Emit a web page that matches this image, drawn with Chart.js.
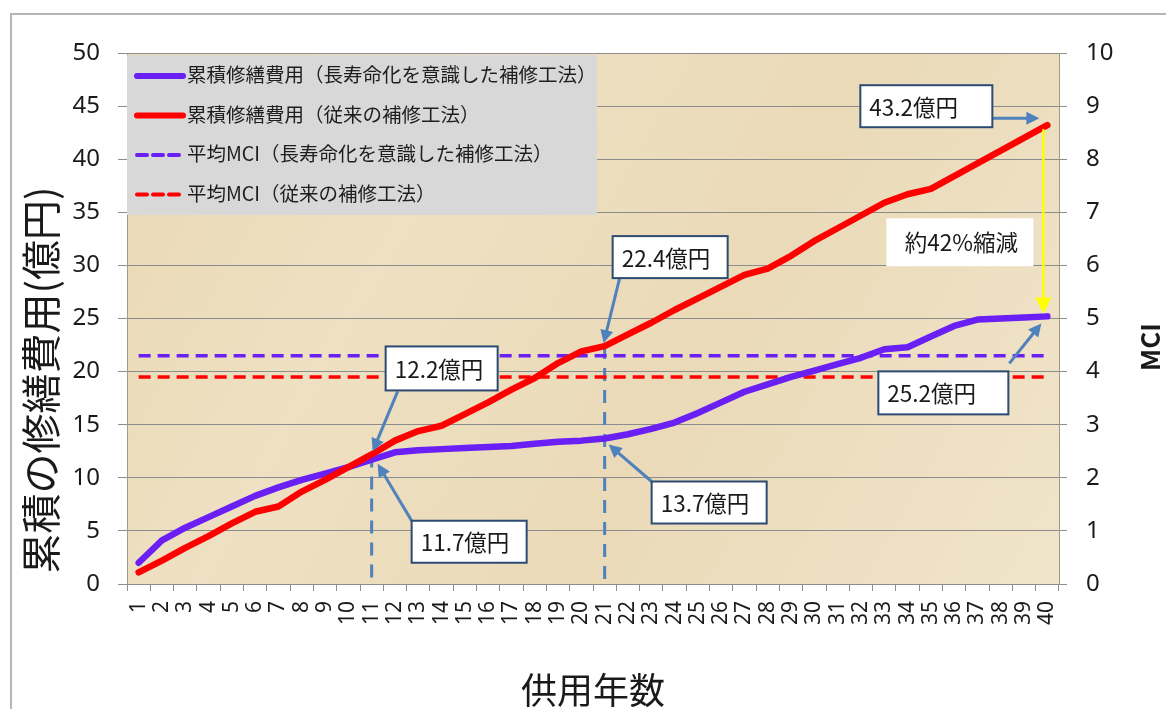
<!DOCTYPE html>
<html>
<head>
<meta charset="utf-8">
<title>累積修繕費用とMCI</title>
<script src="https://cdn.jsdelivr.net/npm/chart.js@4.4.0/dist/chart.umd.min.js"></script>
<style>
  html, body { margin: 0; padding: 0; background: #fff; }
  #wrap { width: 1166px; height: 709px; }
</style>
</head>
<body>
<div id="wrap"><canvas id="myChart" width="1166" height="709"></canvas></div>
<script>
// 供用年数
const years = ["1","2","3","4","5","6","7","8","9","10",
  "11","12","13","14","15","16","17","18","19","20",
  "21","22","23","24","25","26","27","28","29","30",
  "31","32","33","34","35","36","37","38","39","40"];

// 累積修繕費用（億円）
const costLongLife = [2.0, 4.1, 5.3, 6.3, 7.3, 8.3, 9.1, 9.8, 10.4, 11.0,
  11.7, 12.4, 12.6, 12.7, 12.8, 12.9, 13.0, 13.2, 13.4, 13.5,
  13.7, 14.1, 14.6, 15.2, 16.1, 17.1, 18.1, 18.8, 19.5, 20.1,
  20.7, 21.3, 22.1, 22.3, 23.3, 24.3, 24.9, 25.0, 25.1, 25.2];
const costConventional = [1.1, 2.2, 3.4, 4.5, 5.7, 6.8, 7.3, 8.7, 9.8, 11.0,
  12.2, 13.5, 14.4, 14.9, 16.0, 17.1, 18.3, 19.4, 20.8, 21.9,
  22.4, 23.5, 24.6, 25.8, 26.9, 28.0, 29.1, 29.7, 30.9, 32.3,
  33.5, 34.7, 35.9, 36.7, 37.2, 38.4, 39.6, 40.8, 42.0, 43.2];

// 平均MCI（右軸）: 1年目から40年目まで一定
const mciYears = ["1", "40"];
const mciLongLife = [4.3, 4.3];
const mciConventional = [3.9, 3.9];

// 軸目盛
const leftTicks = [0, 5, 10, 15, 20, 25, 30, 35, 40, 45, 50];
const rightTicks = [0, 1, 2, 3, 4, 5, 6, 7, 8, 9, 10];

const seriesNames = [
  "累積修繕費用（長寿命化を意識した補修工法）",
  "累積修繕費用（従来の補修工法）",
  "平均MCI（長寿命化を意識した補修工法）",
  "平均MCI（従来の補修工法）"
];

const PURPLE = "#6a1ff5";
const RED = "#ff0000";
const STEEL = "#4f81bd";
const NAVY = "#2c4a72";
const JP = '"Noto Sans CJK JP", "Noto Sans", sans-serif';

// 吹き出し（対象の年とシリーズから位置を決める）
const callouts = [
  { text: "43.2億円", year: 40, series: costConventional, box: [-187, -40, 132, 42], from: [-55, -7], to: [-8, -7] },
  { text: "22.4億円", year: 21, series: costConventional, box: [8, -110, 115, 42], from: [15, -68], to: [-1, -3] },
  { text: "12.2億円", year: 11, series: costConventional, box: [14, -108, 112, 44], from: [26, -63], to: [1, -3] },
  { text: "11.7億円", year: 11, series: costLongLife, box: [40, 61, 115, 42], from: [40, 61], to: [6, 4] },
  { text: "13.7億円", year: 21, series: costLongLife, box: [47, 43, 115, 42], from: [47, 43], to: [4, 6] },
  { text: "25.2億円", year: 40, series: costLongLife, box: [-169, 55, 130, 43], from: [-38, 47], to: [-6, 7] }
];
const markYears = [11, 21];

function arrow(ctx, x1, y1, x2, y2, color, width, head) {
  const ang = Math.atan2(y2 - y1, x2 - x1);
  ctx.strokeStyle = color;
  ctx.fillStyle = color;
  ctx.lineWidth = width;
  ctx.setLineDash([]);
  ctx.beginPath();
  ctx.moveTo(x1, y1);
  ctx.lineTo(x2 - Math.cos(ang) * head * 0.8, y2 - Math.sin(ang) * head * 0.8);
  ctx.stroke();
  ctx.beginPath();
  ctx.moveTo(x2, y2);
  ctx.lineTo(x2 - head * Math.cos(ang) + head * 0.5 * Math.sin(ang), y2 - head * Math.sin(ang) - head * 0.5 * Math.cos(ang));
  ctx.lineTo(x2 - head * Math.cos(ang) - head * 0.5 * Math.sin(ang), y2 - head * Math.sin(ang) + head * 0.5 * Math.cos(ang));
  ctx.closePath();
  ctx.fill();
}

const backgroundPlugin = {
  id: "paperBackground",
  beforeDraw(chart) {
    const { ctx, chartArea: a, width, height } = chart;
    ctx.save();
    ctx.fillStyle = "#ffffff";
    ctx.fillRect(0, 0, width, height);
    ctx.strokeStyle = "#b5b5b5";
    ctx.lineWidth = 2;
    ctx.beginPath();
    ctx.moveTo(11, height);
    ctx.lineTo(11, 14);
    ctx.lineTo(width, 14);
    ctx.stroke();
    const g = ctx.createLinearGradient(a.left, a.top, a.right, a.bottom);
    g.addColorStop(0, "#e9d8b3");
    g.addColorStop(0.3, "#eee0c2");
    g.addColorStop(0.6, "#eadab8");
    g.addColorStop(1, "#f0e4ca");
    ctx.fillStyle = g;
    ctx.fillRect(a.left, a.top, a.right - a.left, a.bottom - a.top);
    ctx.restore();
  },
  beforeDatasetsDraw(chart) {
    const { ctx, scales } = chart;
    ctx.save();
    ctx.strokeStyle = STEEL;
    ctx.lineWidth = 3;
    ctx.setLineDash([13, 9]);
    markYears.forEach((yr) => {
      const x = scales.x.getPixelForValue(yr - 1);
      ctx.beginPath();
      ctx.moveTo(x, scales.y.getPixelForValue(costConventional[yr - 1]));
      ctx.lineTo(x, scales.y.getPixelForValue(0));
      ctx.stroke();
    });
    ctx.restore();
  }
};

const overlayPlugin = {
  id: "overlay",
  afterDatasetsDraw(chart) {
    const { ctx, chartArea: a, scales } = chart;
    ctx.save();

    // 凡例
    ctx.fillStyle = "#d8d8d8";
    ctx.fillRect(a.left, a.top + 2, 470, 160);
    chart.data.datasets.forEach((ds, i) => {
      const yy = a.top + 23 + i * 39.5;
      ctx.strokeStyle = ds.borderColor;
      ctx.lineWidth = ds.borderDash ? 4 : 6;
      ctx.lineCap = "round";
      ctx.setLineDash(ds.borderDash ? [10, 6] : []);
      ctx.beginPath();
      ctx.moveTo(a.left + 10, yy);
      ctx.lineTo(a.left + 56, yy);
      ctx.stroke();
      ctx.setLineDash([]);
      ctx.fillStyle = "#1e1e1e";
      ctx.font = "19.5px " + JP;
      ctx.textAlign = "left";
      ctx.textBaseline = "middle";
      ctx.fillText(ds.label, a.left + 60, yy - 1);
    });
    ctx.lineCap = "butt";

    // 約42%縮減
    const xEnd = scales.x.getPixelForValue(39);
    const yHigh = scales.y.getPixelForValue(costConventional[39]);
    const yLow = scales.y.getPixelForValue(costLongLife[39]);
    ctx.fillStyle = "#ffffff";
    ctx.fillRect(xEnd - 161, yHigh + 93, 147, 48);
    ctx.fillStyle = "#1a1a1a";
    ctx.font = "22.5px " + JP;
    ctx.textAlign = "center";
    ctx.textBaseline = "middle";
    ctx.fillText("約42%縮減", xEnd - 86, yHigh + 117);
    arrow(ctx, xEnd - 4, yHigh + 4, xEnd - 4, yLow - 3, "#ffff00", 2.5, 16);

    // 吹き出し
    callouts.forEach((c) => {
      const tx = scales.x.getPixelForValue(c.year - 1);
      const ty = scales.y.getPixelForValue(c.series[c.year - 1]);
      arrow(ctx, tx + c.from[0], ty + c.from[1], tx + c.to[0], ty + c.to[1], STEEL, 3, 13);
      const [bx, by, bw, bh] = c.box;
      ctx.fillStyle = "#ffffff";
      ctx.fillRect(tx + bx, ty + by, bw, bh);
      ctx.strokeStyle = NAVY;
      ctx.lineWidth = 2;
      ctx.strokeRect(tx + bx, ty + by, bw, bh);
      ctx.fillStyle = "#1a1a1a";
      ctx.font = "22.5px " + JP;
      ctx.textAlign = "left";
      ctx.textBaseline = "middle";
      ctx.fillText(c.text, tx + bx + 9, ty + by + bh / 2 + 1);
    });
    ctx.restore();
  },
  afterDraw(chart) {
    const { ctx, chartArea: a } = chart;
    ctx.save();
    ctx.fillStyle = "#1a1a1a";
    ctx.textAlign = "center";
    ctx.textBaseline = "middle";
    ctx.font = "40px " + JP;
    ctx.translate(41, 380);
    ctx.rotate(-Math.PI / 2);
    ctx.fillText("累積の修繕費用(億円)", 0, 0);
    ctx.restore();

    ctx.save();
    ctx.fillStyle = "#1a1a1a";
    ctx.textAlign = "center";
    ctx.textBaseline = "middle";
    ctx.font = "36px " + JP;
    ctx.fillText("供用年数", (a.left + a.right) / 2, 690);
    ctx.font = "bold 26px " + JP;
    ctx.translate(1150, 347);
    ctx.rotate(-Math.PI / 2);
    ctx.fillText("MCI", 0, 0);
    ctx.restore();
  }
};

const ctxChart = document.getElementById("myChart").getContext("2d");

const myChart = new Chart(ctxChart, {
  type: "line",
  data: {
    labels: years,
    datasets: [
      {
        label: seriesNames[0],
        data: costLongLife,
        yAxisID: "y",
        borderColor: PURPLE,
        borderWidth: 6.5,
        pointRadius: 0,
        tension: 0,
        borderCapStyle: "round",
        borderJoinStyle: "round",
        order: 2,
      },
      {
        label: seriesNames[1],
        data: costConventional,
        yAxisID: "y",
        borderColor: RED,
        borderWidth: 6.5,
        pointRadius: 0,
        tension: 0,
        borderCapStyle: "round",
        borderJoinStyle: "round",
        order: 1,
      },
      {
        label: seriesNames[2],
        data: mciYears.map((yr, i) => ({ x: yr, y: mciLongLife[i] })),
        yAxisID: "y1",
        borderColor: PURPLE,
        borderWidth: 3.5,
        borderDash: [12, 7],
        pointRadius: 0,
        order: 3,
      },
      {
        label: seriesNames[3],
        data: mciYears.map((yr, i) => ({ x: yr, y: mciConventional[i] })),
        yAxisID: "y1",
        borderColor: RED,
        borderWidth: 3.5,
        borderDash: [12, 7],
        pointRadius: 0,
        order: 4,
      },
    ],
  },
  options: {
    responsive: false,
    animation: false,
    devicePixelRatio: 1,
    layout: { padding: { top: 53, left: 0, right: 0, bottom: 0 } },
    plugins: {
      legend: { display: false },
      tooltip: { enabled: false },
    },
    scales: {
      x: {
        type: "category",
        offset: true,
        afterFit: (scale) => { scale.height = 125; },
        grid: {
          display: true,
          drawOnChartArea: false,
          offset: true,
          tickLength: 7,
          color: "#8c8c8c",
        },
        border: { display: true, color: "#8c8c8c", width: 1 },
        ticks: {
          autoSkip: false,
          minRotation: 90,
          maxRotation: 90,
          padding: 10,
          color: "#1a1a1a",
          font: { family: "Noto Sans", size: 21 },
        },
      },
      y: {
        position: "left",
        min: 0,
        max: 50,
        afterFit: (scale) => { scale.width = 127; },
        afterBuildTicks: (scale) => { scale.ticks = leftTicks.map((v) => ({ value: v })); },
        grid: { color: "#8c8c8c", tickLength: 9, lineWidth: 1 },
        border: { display: true, color: "#a39a86" },
        ticks: {
          padding: 18,
          color: "#1a1a1a",
          font: { family: "Noto Sans", size: 24 },
        },
      },
      y1: {
        position: "right",
        min: 0,
        max: 10,
        afterFit: (scale) => { scale.width = 107; },
        afterBuildTicks: (scale) => { scale.ticks = rightTicks.map((v) => ({ value: v })); },
        grid: { drawOnChartArea: false, color: "#8c8c8c", tickLength: 8 },
        border: { display: true, color: "#a39a86" },
        ticks: {
          padding: 19,
          color: "#1a1a1a",
          font: { family: "Noto Sans", size: 24 },
        },
      },
    },
  },
  plugins: [backgroundPlugin, overlayPlugin],
});
</script>
</body>
</html>
